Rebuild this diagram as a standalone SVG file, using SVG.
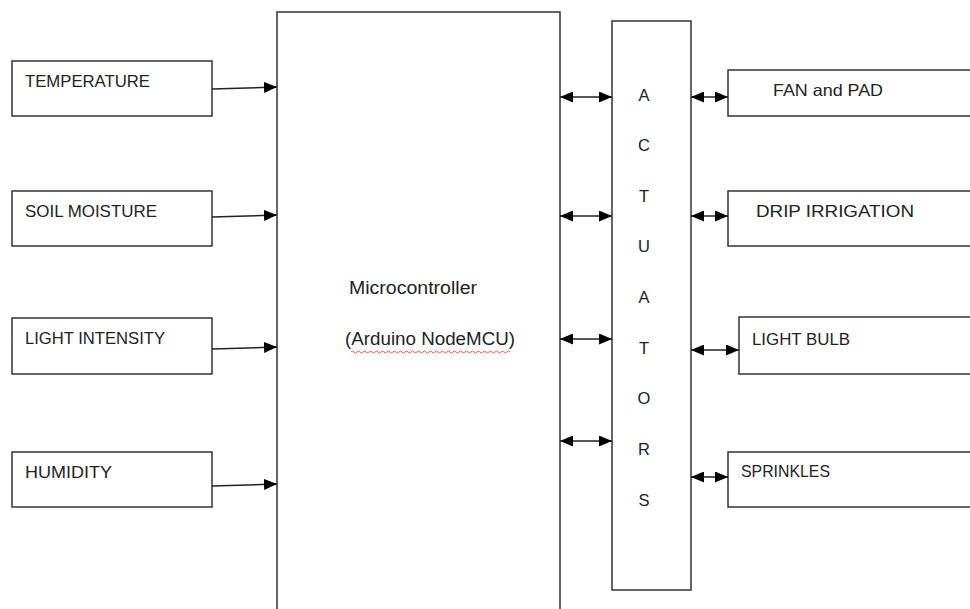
<svg xmlns="http://www.w3.org/2000/svg" width="970" height="609" viewBox="0 0 970 609">
<defs>
<marker id="ah" viewBox="0 0 13 11" refX="13" refY="5.5" markerWidth="13" markerHeight="11" markerUnits="userSpaceOnUse" orient="auto-start-reverse">
<path d="M0,0 L13,5.5 L0,11 Z" fill="#000"/>
</marker>
</defs>
<style>
.box{fill:#fff;stroke:#333;stroke-width:1.5}
.t{font-family:"Liberation Sans",Arial,sans-serif;font-size:16.5px;fill:#222}
.m{font-size:17.5px}
.l{stroke:#222;stroke-width:1.5;fill:none}
</style>
<rect width="970" height="609" fill="#fff"/>
<g id="temperature"><rect class="box" x="12" y="61" width="200" height="55"/><text class="t" x="25" y="87" textLength="125" lengthAdjust="spacingAndGlyphs">TEMPERATURE</text></g>
<g id="soil-moisture"><rect class="box" x="12" y="191" width="200" height="55"/><text class="t" x="25" y="217" textLength="132" lengthAdjust="spacingAndGlyphs">SOIL MOISTURE</text></g>
<g id="light-intensity"><rect class="box" x="12" y="318" width="200" height="56"/><text class="t" x="25" y="344" textLength="140" lengthAdjust="spacingAndGlyphs">LIGHT INTENSITY</text></g>
<g id="humidity"><rect class="box" x="12" y="452" width="200" height="55"/><text class="t" x="25" y="478" textLength="87" lengthAdjust="spacingAndGlyphs">HUMIDITY</text></g>
<g id="microcontroller"><path class="box" d="M277,612 L277,12 L560,12 L560,612"/>
<text class="t m" x="349" y="294" textLength="128" lengthAdjust="spacingAndGlyphs">Microcontroller</text>
<text class="t m" x="345" y="345" textLength="170" lengthAdjust="spacingAndGlyphs">(Arduino NodeMCU)</text>
<path d="M351,352 q1.5,-2 3,0 t3,0 t3,0 t3,0 t3,0 t3,0 t3,0 t3,0 t3,0 t3,0 t3,0 t3,0 t3,0 t3,0 t3,0 t3,0 t3,0 t3,0 t3,0 t3,0 t3,0 t3,0 t3,0 t3,0 t3,0 t3,0 t3,0 t3,0 t3,0 t3,0 t3,0 t3,0 t3,0 t3,0 t3,0 t3,0 t3,0 t3,0 t3,0 t3,0 t3,0 t3,0 t3,0 t3,0 t3,0 t3,0 t3,0 t3,0 t3,0 t3,0 t3,0 t3,0 t3,0" fill="none" stroke="#e03030" stroke-width="0.8"/>
</g>
<g id="actuators"><rect class="box" x="612" y="21" width="79" height="569"/>
<g class="t" text-anchor="middle">
<text x="644" y="101">A</text><text x="644" y="151">C</text><text x="644" y="202">T</text><text x="644" y="252">U</text><text x="644" y="303">A</text><text x="644" y="354">T</text><text x="644" y="404">O</text><text x="644" y="455">R</text><text x="644" y="506">S</text>
</g></g>
<g id="fan-and-pad"><path class="box" d="M972,70 L728,70 L728,116 L972,116"/><text class="t" x="773" y="96" textLength="110" lengthAdjust="spacingAndGlyphs">FAN and PAD</text></g>
<g id="drip-irrigation"><path class="box" d="M972,191 L728,191 L728,246 L972,246"/><text class="t" x="756" y="217" textLength="158" lengthAdjust="spacingAndGlyphs">DRIP IRRIGATION</text></g>
<g id="light-bulb"><path class="box" d="M972,317 L739,317 L739,374 L972,374"/><text class="t" x="752" y="345" textLength="98" lengthAdjust="spacingAndGlyphs">LIGHT BULB</text></g>
<g id="sprinkles"><path class="box" d="M972,452 L728,452 L728,507 L972,507"/><text class="t" x="741" y="477" textLength="89" lengthAdjust="spacingAndGlyphs">SPRINKLES</text></g>
<g id="connectors">
<line class="l" x1="212" y1="89" x2="277" y2="87" marker-end="url(#ah)"/>
<line class="l" x1="212" y1="217" x2="277" y2="215" marker-end="url(#ah)"/>
<line class="l" x1="212" y1="349" x2="277" y2="347" marker-end="url(#ah)"/>
<line class="l" x1="212" y1="486" x2="277" y2="484" marker-end="url(#ah)"/>
<line class="l" x1="560" y1="97" x2="612" y2="97" marker-start="url(#ah)" marker-end="url(#ah)"/>
<line class="l" x1="560" y1="216" x2="612" y2="216" marker-start="url(#ah)" marker-end="url(#ah)"/>
<line class="l" x1="560" y1="339" x2="612" y2="339" marker-start="url(#ah)" marker-end="url(#ah)"/>
<line class="l" x1="560" y1="441" x2="612" y2="441" marker-start="url(#ah)" marker-end="url(#ah)"/>
<line class="l" x1="691" y1="97" x2="728" y2="97" marker-start="url(#ah)" marker-end="url(#ah)"/>
<line class="l" x1="691" y1="216" x2="728" y2="216" marker-start="url(#ah)" marker-end="url(#ah)"/>
<line class="l" x1="691" y1="350" x2="739" y2="350" marker-start="url(#ah)" marker-end="url(#ah)"/>
<line class="l" x1="691" y1="477" x2="728" y2="477" marker-start="url(#ah)" marker-end="url(#ah)"/>
</g>
</svg>
